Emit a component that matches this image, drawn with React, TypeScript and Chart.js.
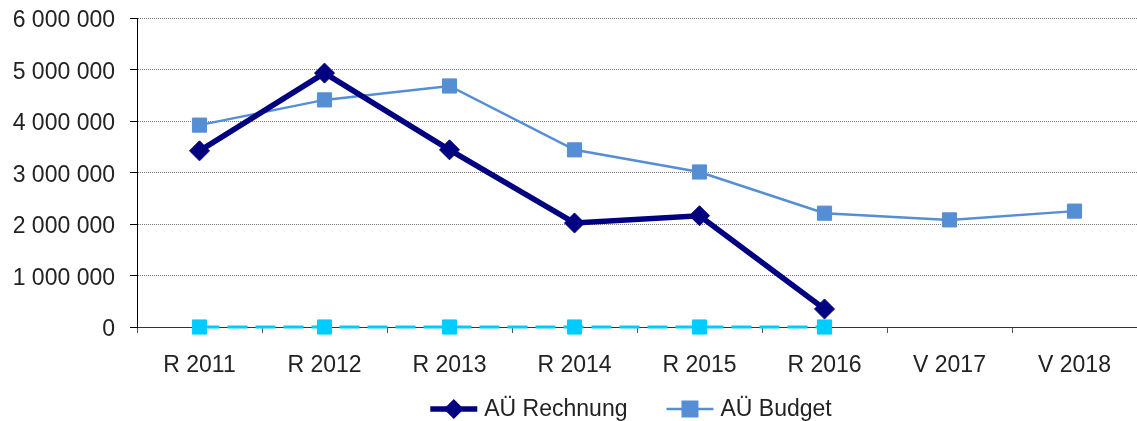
import React, { useEffect, useRef } from "react";
import { Chart, registerables } from "chart.js";

Chart.register(...registerables);

const categories = ["R 2011", "R 2012", "R 2013", "R 2014", "R 2015", "R 2016", "V 2017", "V 2018"];
const rechnung = [3420000, 4930000, 3440000, 2020000, 2160000, 350000, null, null];
const budget = [3920000, 4410000, 4680000, 3440000, 3010000, 2210000, 2080000, 2250000];
const zeroSeries = [0, 0, 0, 0, 0, 0, null, null];
const yTicks = [0, 1000000, 2000000, 3000000, 4000000, 5000000, 6000000];

const FONT = '"Liberation Sans", Arial, sans-serif';
const FONT_SIZE = 23;
const TEXT = "#222222";
const NAVY = "#000080";
const BLUE = "#558ED5";
const CYAN = "#00CCFF";

const fmt = (v: number) => String(Math.round(v)).replace(/\B(?=(\d{3})+(?!\d))/g, " ");

const legendPlugin = {
  id: "customLegend",
  afterDraw(chart: any) {
    const ctx = chart.ctx;
    const area = chart.chartArea;
    const items = chart.data.datasets.filter((d: any) => !d.hideInLegend);
    ctx.save();
    ctx.font = FONT_SIZE + "px " + FONT;
    const lineW = 47, gapText = 7, gapItem = 39;
    const widths = items.map((d: any) => ctx.measureText(d.label).width);
    let total = 0;
    widths.forEach((w: number) => (total += lineW + gapText + w));
    total += gapItem * (items.length - 1);
    let x = (area.left + area.right) / 2 - total / 2 - 6;
    const y = 409;
    items.forEach((d: any, i: number) => {
      ctx.strokeStyle = d.borderColor;
      ctx.lineWidth = d.borderWidth;
      ctx.beginPath();
      ctx.moveTo(x, y);
      ctx.lineTo(x + lineW, y);
      ctx.stroke();
      const cx = x + lineW / 2;
      ctx.fillStyle = d.pointBackgroundColor;
      ctx.beginPath();
      if (d.pointStyle === "rectRot") {
        const r = 10;
        ctx.moveTo(cx, y - r);
        ctx.lineTo(cx + r, y);
        ctx.lineTo(cx, y + r);
        ctx.lineTo(cx - r, y);
        ctx.closePath();
      } else {
        const s = 8.5;
        ctx.rect(cx - s, y - s, 2 * s, 2 * s);
      }
      ctx.fill();
      ctx.fillStyle = TEXT;
      ctx.textBaseline = "middle";
      ctx.textAlign = "left";
      ctx.fillText(d.label, x + lineW + gapText, y + 1);
      x += lineW + gapText + widths[i] + gapItem;
    });
    ctx.restore();
  },
};

export default function App() {
  const ref = useRef<HTMLCanvasElement | null>(null);
  useEffect(() => {
    document.body.style.margin = "0";
    if (!ref.current) return;
    const chart = new Chart(ref.current, {
      type: "line",
      data: {
        labels: categories,
        datasets: [
          {
            label: "AÜ Rechnung",
            data: rechnung,
            borderColor: NAVY,
            backgroundColor: NAVY,
            pointBackgroundColor: NAVY,
            pointBorderColor: NAVY,
            borderWidth: 5.5,
            pointStyle: "rectRot",
            pointRadius: 10,
            pointBorderWidth: 1,
            tension: 0,
            clip: false,
          } as any,
          {
            label: "AÜ Budget",
            data: budget,
            borderColor: BLUE,
            backgroundColor: BLUE,
            pointBackgroundColor: BLUE,
            pointBorderColor: BLUE,
            borderWidth: 2.5,
            pointStyle: "rect",
            pointRadius: 10,
            pointBorderWidth: 1,
            tension: 0,
            clip: false,
          } as any,
          {
            label: "",
            hideInLegend: true,
            data: zeroSeries,
            borderColor: CYAN,
            backgroundColor: CYAN,
            pointBackgroundColor: CYAN,
            pointBorderColor: CYAN,
            borderWidth: 3,
            borderDash: [20, 8],
            pointStyle: "rect",
            pointRadius: 10,
            pointBorderWidth: 1,
            tension: 0,
            clip: false,
          } as any,
        ],
      },
      options: {
        animation: false,
        responsive: false,
        maintainAspectRatio: false,
        layout: { autoPadding: false, padding: { top: 18, left: 0, right: 0, bottom: 39 } } as any,
        plugins: {
          legend: { display: false },
          tooltip: { enabled: false },
        },
        scales: {
          x: {
            offset: true,
            afterFit: (scale: any) => {
              scale.paddingLeft = 0;
              scale.paddingRight = 0;
              scale.height = 55;
            },
            grid: {
              offset: true,
              drawOnChartArea: false,
              drawTicks: true,
              tickLength: 6,
              color: "#555555",
            },
            border: { display: true, color: "#333333", width: 1 },
            ticks: {
              color: TEXT,
              font: { family: FONT, size: FONT_SIZE },
              padding: 19,
              maxRotation: 0,
            },
          },
          y: {
            min: 0,
            max: 6000000,
            afterBuildTicks: (scale: any) => {
              scale.ticks = yTicks.map((v) => ({ value: v }));
            },
            afterFit: (scale: any) => {
              scale.paddingTop = 0;
              scale.paddingBottom = 0;
              scale.width = 137;
            },
            grid: {
              color: "#777777",
              lineWidth: 1,
              drawTicks: true,
              tickLength: 7,
              tickColor: "#000000",
              tickBorderDash: [],
            } as any,
            border: { display: true, color: "#000000", width: 1, dash: [1, 1] },
            ticks: {
              color: TEXT,
              font: { family: FONT, size: FONT_SIZE },
              padding: 15,
              labelOffset: 3,
              callback: (v: any) => fmt(Number(v)),
            },
          },
        },
      },
      plugins: [legendPlugin],
    });
    return () => chart.destroy();
  }, []);
  return (
    <div style={{ width: 1137, height: 421 }}>
      <canvas ref={ref} width={1137} height={421} style={{ display: "block" }} />
    </div>
  );
}
